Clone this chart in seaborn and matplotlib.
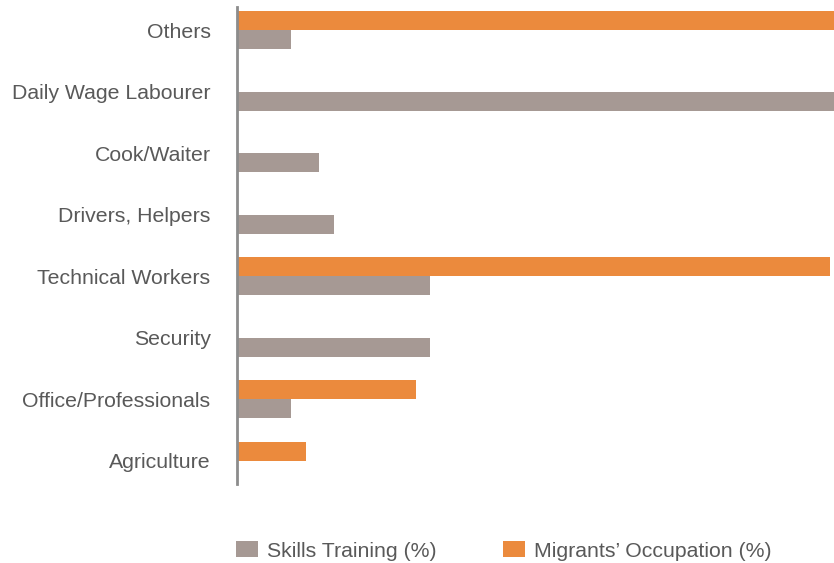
import pandas as pd
import matplotlib.pyplot as plt
import seaborn as sns
from matplotlib.patches import Patch

# Occupation categories, top to bottom
categories = ['Others', 'Daily Wage Labourer', 'Cook/Waiter', 'Drivers, Helpers',
              'Technical Workers', 'Security', 'Office/Professionals', 'Agriculture']

# Values (bars for Others / Daily Wage run off the chart)
skills_training = [3.6, 46.0, 5.5, 6.5, 12.9, 12.9, 3.6, 0.0]
migrants_occupation = [45.0, 0.0, 0.0, 0.0, 39.7, 0.0, 12.0, 4.6]

skills_label = 'Skills Training (%)'
migrants_label = 'Migrants\u2019 Occupation (%)'
orange = '#EB8A3D'
grey = '#A69994'
text_grey = '#595959'

df = pd.DataFrame({
    'category': categories * 2,
    'value': migrants_occupation + skills_training,
    'series': [migrants_label] * len(categories) + [skills_label] * len(categories),
})

sns.set_style('white')
plt.rcParams['font.family'] = ['Liberation Sans', 'DejaVu Sans']

fig = plt.figure(figsize=(8.34, 5.63), dpi=100)
ax = fig.add_axes([237 / 834, 1 - 484 / 563, 1 - 237 / 834, (484 - 7) / 563])

sns.barplot(data=df, y='category', x='value', hue='series', order=categories,
            hue_order=[migrants_label, skills_label],
            palette={migrants_label: orange, skills_label: grey},
            orient='h', width=0.62, linewidth=0, saturation=1, ax=ax, legend=False)

ax.set_xlim(0, 40)
ax.set_ylim(7.38, -0.38)
ax.set_xlabel('')
ax.set_ylabel('')
ax.set_xticks([])
for s in ['top', 'right', 'bottom']:
    ax.spines[s].set_visible(False)
ax.spines['left'].set_color('#8C8C8C')
ax.spines['left'].set_linewidth(2)
ax.tick_params(axis='y', length=0, pad=19, labelsize=15.3, labelcolor=text_grey)
for lbl in ax.get_yticklabels():
    lbl.set_va('center_baseline')

handles = [Patch(facecolor=grey, edgecolor='none', label=skills_label),
           Patch(facecolor=orange, edgecolor='none', label=migrants_label)]
fig.legend(handles=handles, loc='center left', bbox_to_anchor=(236 / 834, 1 - 551 / 563),
           ncol=2, frameon=False, fontsize=15.3, labelcolor=text_grey,
           handlelength=1.05, handleheight=0.76, handletextpad=0.43,
           columnspacing=3.1, borderpad=0, borderaxespad=0)

fig.savefig('out.png', dpi=100)
